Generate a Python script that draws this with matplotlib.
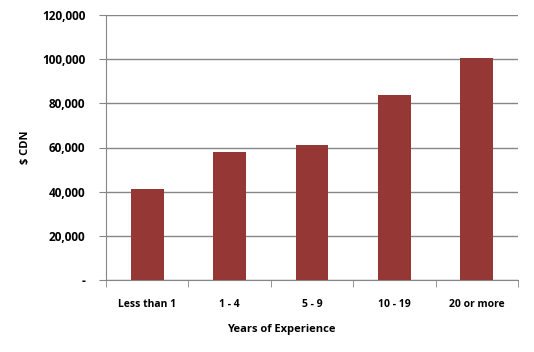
import numpy as np, matplotlib
matplotlib.use("Agg"); import matplotlib.pyplot as plt
from matplotlib.ticker import FuncFormatter

categories = ["Less than 1", "1 - 4", "5 - 9", "10 - 19", "20 or more"]
salary = [41200, 58000, 61100, 83800, 100500]
yticks = [0, 20000, 40000, 60000, 80000, 100000, 120000]

plt.rcParams['font.family'] = ['Open Sans', 'DejaVu Sans']
grey = "#868686"

fig = plt.figure(figsize=(5.34, 3.52), dpi=100)
ax = fig.add_axes([106/534, 1-280/352, 412/534, 265/352])
x = np.arange(len(categories))
ax.bar(x, salary, width=0.4, color="#953735", zorder=3)

ax.set_xlim(-0.5, len(categories)-0.5)
ax.set_ylim(0, 120000)
ax.set_yticks(yticks)
ax.yaxis.set_major_formatter(FuncFormatter(lambda v, p: "-" if v == 0 else f"{int(v):,}"))
ax.grid(axis="y", color=grey, lw=1, zorder=0)
ax.set_xticks(x)
ax.set_xticklabels(categories)
ax.set_xticks(np.arange(-0.5, len(categories)), minor=True)
ax.tick_params(axis="x", which="major", length=0, pad=14)
ax.tick_params(axis="x", which="minor", length=5, color=grey, direction="out")
ax.tick_params(axis="y", length=5, color=grey, pad=10)
for lab in ax.get_xticklabels():
    lab.set_fontsize(7.5); lab.set_fontweight("bold")
for lab in ax.get_yticklabels():
    lab.set_fontsize(8.5); lab.set_fontweight("bold")
for s in ("top", "right"):
    ax.spines[s].set_visible(False)
for s in ("left", "bottom"):
    ax.spines[s].set_color(grey)

ax.set_ylabel("$ CDN", fontsize=8, fontweight="bold", labelpad=8)
ax.set_xlabel("Years of Experience", fontsize=8, fontweight="bold", labelpad=10)
ax.xaxis.set_label_coords(0.425, -0.165)

fig.savefig("out.png", dpi=100)
